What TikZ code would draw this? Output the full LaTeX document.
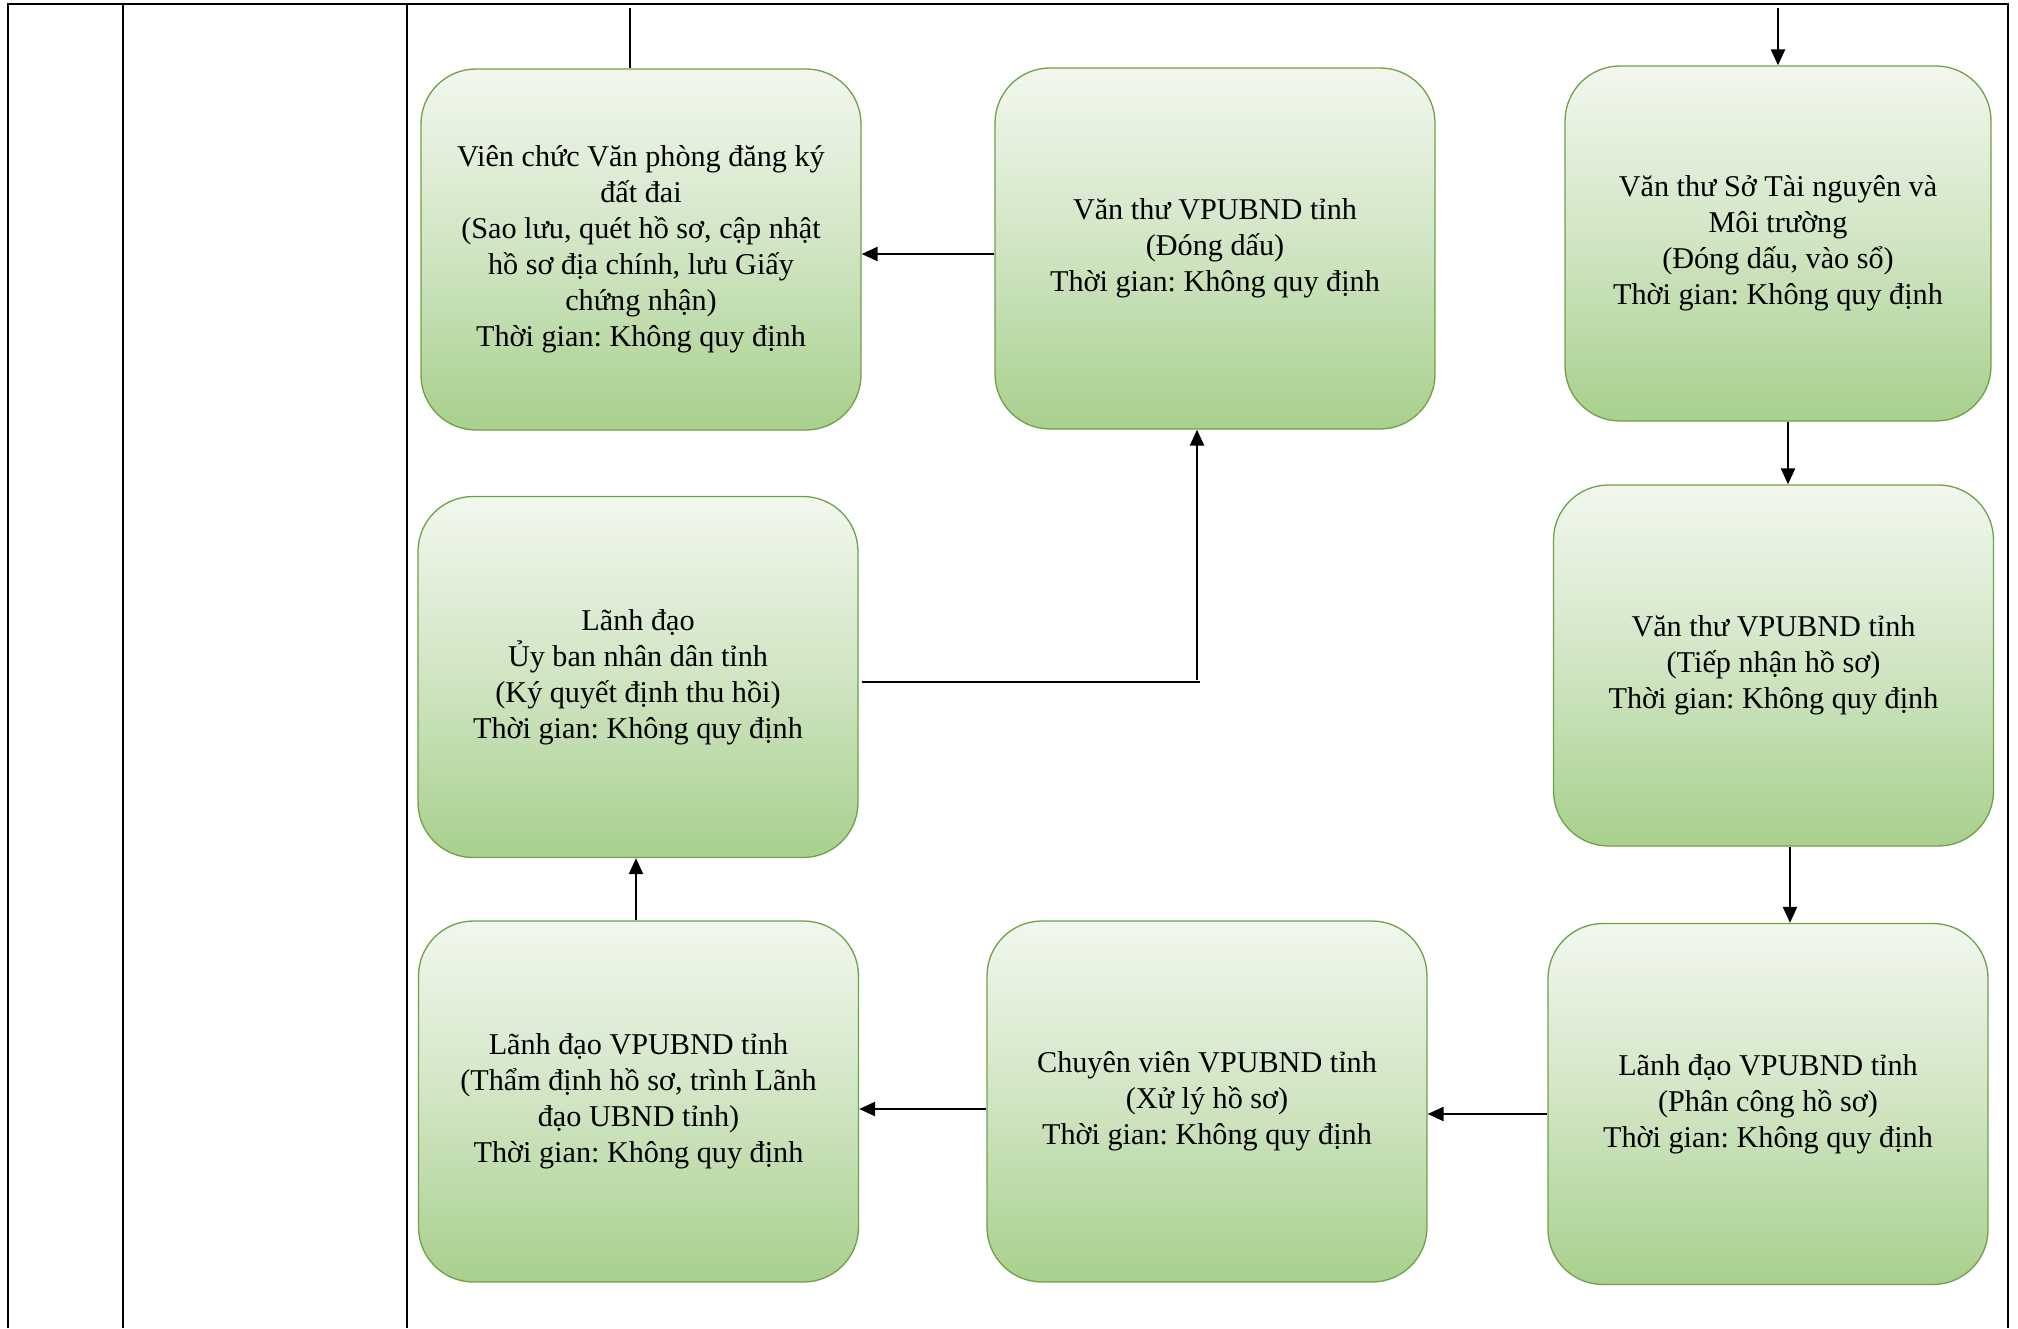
\documentclass[tikz,border=0pt]{standalone}
\usepackage{fontspec}
\setmainfont{Liberation Serif}
\usetikzlibrary{arrows.meta}
\definecolor{gtop}{RGB}{242,247,238}
\definecolor{gmid}{RGB}{208,229,195}
\definecolor{gbot}{RGB}{168,208,141}
\definecolor{gborder}{RGB}{112,160,72}
\frenchspacing
\begin{document}
\begin{tikzpicture}[x=1pt,y=-1pt,
  box/.style={draw=gborder, line width=1.3pt, rounded corners=55pt,
    top color=gtop, bottom color=gbot, middle color=gmid,
    minimum width=440pt, minimum height=361pt, align=center,
    font=\fontsize{30.2}{36}\selectfont, inner sep=0pt},
  arr/.style={line width=2.4pt, -{Triangle[length=16pt,width=14pt]}},
  rule/.style={line width=2.8pt},
  thin/.style={line width=1.2pt}]
\useasboundingbox (0,0) rectangle (2018,1328);
% table lines
\draw[rule] (8,1328) -- (8,4) -- (2008,4) -- (2008,1328);
\draw[rule] (123,4) -- (123,1328);
\draw[rule] (407,4) -- (407,1328);
% boxes
\node[box] (b1) at (641,249.5) {Viên chức Văn phòng đăng ký\\đất đai\\(Sao lưu, quét hồ sơ, cập nhật\\hồ sơ địa chính, lưu Giấy\\chứng nhận)\\Thời gian: Không quy định};
\node[box] (b2) at (1215,248.5) {Văn thư VPUBND tỉnh\\(Đóng dấu)\\Thời gian: Không quy định};
\node[box, minimum width=426pt, minimum height=355pt] (b3) at (1778,243.5) {Văn thư Sở Tài nguyên và\\Môi trường\\(Đóng dấu, vào sổ)\\Thời gian: Không quy định};
\node[box] (b4) at (638,677) {Lãnh đạo\\Ủy ban nhân dân tỉnh\\(Ký quyết định thu hồi)\\Thời gian: Không quy định};
\node[box] (b5) at (1773.5,665.5) {Văn thư VPUBND tỉnh\\(Tiếp nhận hồ sơ)\\Thời gian: Không quy định};
\node[box] (b6) at (638.5,1101.5) {Lãnh đạo VPUBND tỉnh\\(Thẩm định hồ sơ, trình Lãnh\\đạo UBND tỉnh)\\Thời gian: Không quy định};
\node[box] (b7) at (1207,1101.5) {Chuyên viên VPUBND tỉnh\\(Xử lý hồ sơ)\\Thời gian: Không quy định};
\node[box] (b8) at (1768,1104) {Lãnh đạo VPUBND tỉnh\\(Phân công hồ sơ)\\Thời gian: Không quy định};
% connectors
\coordinate (t1) at (630,8);
\coordinate (t3) at (1778,8);
\coordinate (j1) at (1197,682);
\draw[thin] (t1) -- (t1 |- b1.north);
\draw[arr] (t3) -- (b3.north);
\draw[arr] (b3.south -| 1788,0) -- (b5.north -| 1788,0);
\draw[arr] (b5.south -| 1790,0) -- (b8.north -| 1790,0);
\draw[arr] (b8.west |- 0,1114) -- (b7.east |- 0,1114);
\draw[arr] (b7.west |- 0,1109) -- (b6.east |- 0,1109);
\draw[arr] (b6.north -| 636,0) -- (b4.south -| 636,0);
\draw[thin] ([xshift=3pt]b4.east |- j1) -- ([xshift=3pt]j1);
\draw[arr] ([yshift=2pt]j1) -- (j1 |- b2.south);
\draw[arr] (b2.west |- 0,254) -- (b1.east |- 0,254);
\end{tikzpicture}
\end{document}
